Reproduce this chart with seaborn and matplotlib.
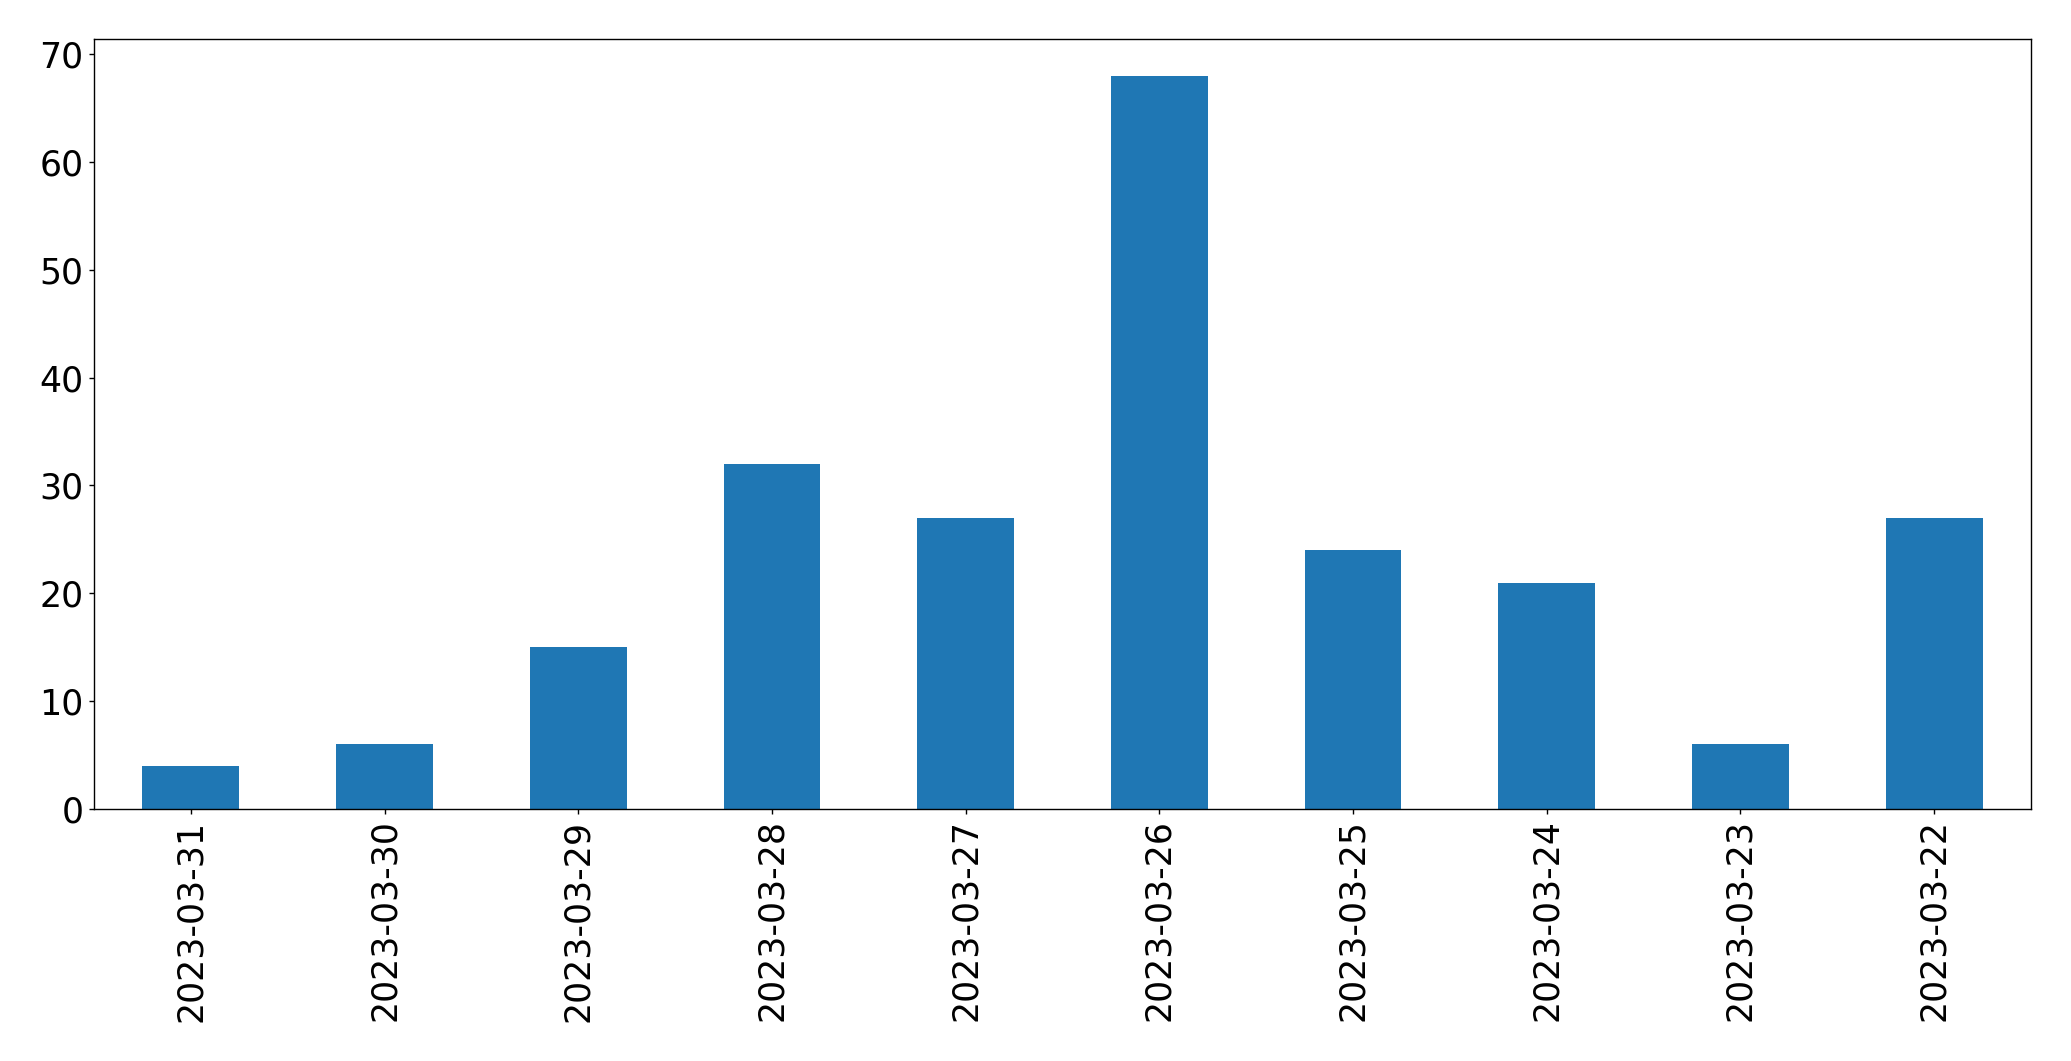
import matplotlib
matplotlib.use("Agg")
import matplotlib.pyplot as plt
import seaborn as sns
import pandas as pd

dates = ["2023-03-31", "2023-03-30", "2023-03-29", "2023-03-28", "2023-03-27",
         "2023-03-26", "2023-03-25", "2023-03-24", "2023-03-23", "2023-03-22"]
counts = [4, 6, 15, 32, 27, 68, 24, 21, 6, 27]

sns.set_style("white")
plt.rcParams['font.family'] = ['DejaVu Sans']

df = pd.DataFrame({"date": dates, "count": counts})

fig = plt.figure(figsize=(20.71, 10.61), dpi=100)
ax = fig.add_axes([94/2071, 1 - 809/1061, (2031-94)/2071, (809-39)/1061])
sns.barplot(data=df, x="date", y="count", order=dates, color="#1f77b4",
            width=0.5, saturation=1, ax=ax, edgecolor="none")
ax.set_xlim(-0.5, len(dates) - 0.5)
ax.set_ylim(0, max(counts) * 1.05)
ax.set_xlabel("")
ax.set_ylabel("")
ax.tick_params(axis="both", labelsize=25, length=3.5, width=1, color="black",
               labelcolor="black", bottom=True, left=True, pad=4)
ax.tick_params(axis="x", labelrotation=90)
for s in ax.spines.values():
    s.set_color("black")
    s.set_linewidth(1)
ax.grid(False)
fig.savefig("out.png", dpi=100)
